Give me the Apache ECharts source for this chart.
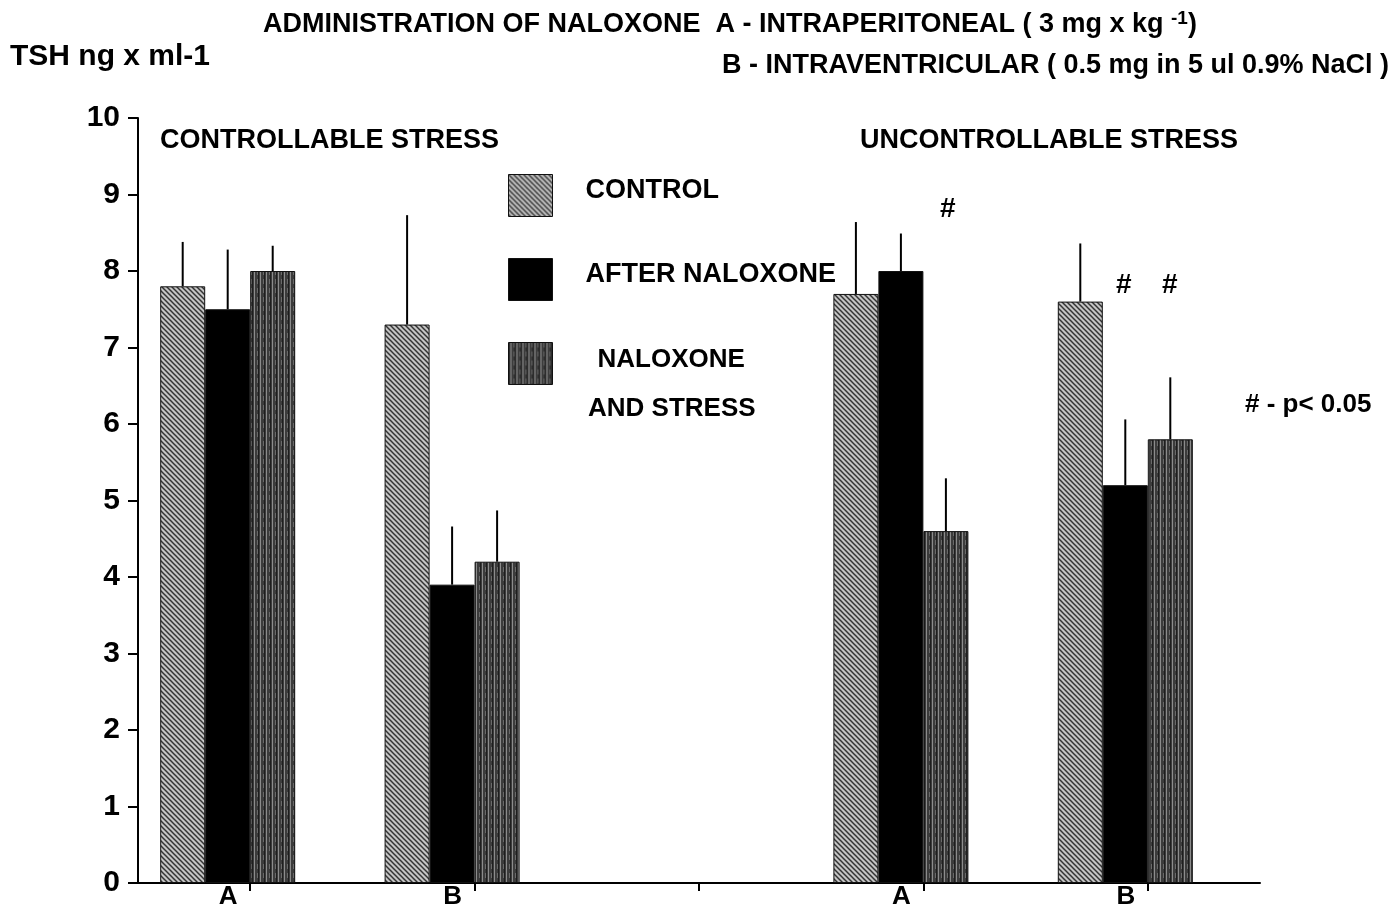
<!DOCTYPE html>
<html>
<head>
<meta charset="utf-8">
<script src="https://cdn.jsdelivr.net/npm/echarts@6/dist/echarts.min.js"></script>
<style>html,body{margin:0;padding:0;background:#fff;}#c{width:1396px;height:910px;}</style>
</head>
<body>
<div id="c"></div>
<script>
// ---- data ----
const categories = ['A', 'B', '', 'A', 'B'];
const seriesNames = ['CONTROL', 'AFTER NALOXONE', 'NALOXONE AND STRESS'];
const controlMean = [7.8, 7.3, '-', 7.7, 7.6];
const controlTop  = [8.38, 8.73, '-', 8.64, 8.36];
const afterMean   = [7.5, 3.9, '-', 8.0, 5.2];
const afterTop    = [8.28, 4.66, '-', 8.49, 6.06];
const nsMean      = [8.0, 4.2, '-', 4.6, 5.8];
const nsTop       = [8.33, 4.87, '-', 5.29, 6.61];
const yTicks = [0, 1, 2, 3, 4, 5, 6, 7, 8, 9, 10];

// ---- patterns ----
function makePattern(kind) {
  const c = document.createElement('canvas');
  if (kind === 'diag') {
    c.width = 5; c.height = 5;
    const g = c.getContext('2d');
    g.fillStyle = '#c4c4c4'; g.fillRect(0, 0, 5, 5);
    g.strokeStyle = '#333333'; g.lineWidth = 1.5;
    g.beginPath(); g.moveTo(-1, -1); g.lineTo(6, 6); g.stroke();
    g.beginPath(); g.moveTo(-1, 4); g.lineTo(1, 6); g.stroke();
    g.beginPath(); g.moveTo(4, -1); g.lineTo(6, 1); g.stroke();
  } else {
    c.width = 6; c.height = 9;
    const g = c.getContext('2d');
    g.fillStyle = '#3c3c3c'; g.fillRect(0, 0, 6, 9);
    g.fillStyle = '#8c8c8c'; g.fillRect(2, 0, 1, 9);
    g.fillStyle = '#6a6a6a'; g.fillRect(5, 0, 1, 5);
    g.fillStyle = '#1e1e1e'; g.fillRect(0, 0, 1, 9);
  }
  return { image: c, repeat: 'repeat' };
}
const colors = [makePattern('diag'), '#000000', makePattern('vert')];

const means = [controlMean, afterMean, nsMean];
const tops = [controlTop, afterTop, nsTop];
const BW = 45;

const chart = echarts.init(document.getElementById('c'));
const series = [];
seriesNames.forEach((n, i) => {
  series.push({
    name: n, type: 'bar', barWidth: BW, barGap: '0%',
    data: means[i],
    itemStyle: { color: colors[i], borderColor: '#111', borderWidth: 1 },
    z: 2
  });
});
// empty slot so the triple sits left of each tick, as in the original
series.push({ name: 'slot', type: 'bar', barWidth: BW, barGap: '0%', data: categories.map(() => '-'), silent: true });

seriesNames.forEach((n, i) => {
  const d = [];
  categories.forEach((c, k) => { if (tops[i][k] !== '-') d.push([k, means[i][k], tops[i][k]]); });
  series.push({
    type: 'custom', name: n + ' err', z: 3, silent: true,
    data: d,
    renderItem: function (params, api) {
      const base = api.coord([api.value(0), api.value(1)]);
      const top = api.coord([api.value(0), api.value(2)]);
      const x = base[0] + (-1.5 + i) * BW;
      return { type: 'line', shape: { x1: x, y1: base[1], x2: x, y2: top[1] }, style: { stroke: '#000', lineWidth: 2 } };
    }
  });
});

const F = 'Liberation Sans, Arial, sans-serif';
chart.setOption({
  backgroundColor: '#fff',
  animation: false,
  grid: { left: 138, right: 136, top: 118, bottom: 26, containLabel: false },
  xAxis: {
    type: 'category', data: categories,
    axisLine: { lineStyle: { color: '#000', width: 2 } },
    axisTick: { show: true, interval: 0, alignWithLabel: true, length: 8, lineStyle: { color: '#000', width: 2 } },
    axisLabel: { interval: 0, color: '#000', fontFamily: F, fontWeight: 'bold', fontSize: 26, margin: 1, padding: [0, 44, 0, 0] }
  },
  yAxis: {
    type: 'value', min: yTicks[0], max: yTicks[yTicks.length - 1], interval: 1,
    splitLine: { show: false },
    axisLine: { show: true, lineStyle: { color: '#000', width: 2 } },
    axisTick: { show: true, length: 10, lineStyle: { color: '#000', width: 2 } },
    axisLabel: { color: '#000', fontFamily: F, fontWeight: 'bold', fontSize: 30, margin: 18 }
  },
  legend: {
    data: seriesNames, orient: 'vertical', left: 503, top: 169,
    itemWidth: 44, itemHeight: 42, itemGap: 41, icon: 'rect', selectedMode: false,
    itemStyle: { borderColor: '#111', borderWidth: 1 },
    formatter: function (name) { return name === 'NALOXONE AND STRESS' ? '{b|NALOXONE}' : '{a|' + name + '}'; },
    textStyle: {
      color: '#000', fontFamily: F, fontWeight: 'bold', fontSize: 27,
      rich: {
        a: { color: '#000', fontFamily: F, fontWeight: 'bold', fontSize: 27, padding: [0, 0, 10, 28] },
        b: { color: '#000', fontFamily: F, fontWeight: 'bold', fontSize: 26, padding: [0, 0, 8, 40] }
      }
    }
  },
  graphic: [
    { type: 'text', left: 10, top: 42, style: { text: 'TSH ng x ml-1', font: 'bold 30px ' + F, fill: '#000' } },
    { type: 'text', left: 263, top: 9, style: {
        text: 'ADMINISTRATION OF NALOXONE  A - INTRAPERITONEAL ( 3 mg x kg {s|-1})',
        font: 'bold 27px ' + F, fill: '#000',
        rich: { s: { font: 'bold 19px ' + F, fill: '#000', verticalAlign: 'top', padding: [0, 0, 12, 0] } }
      } },
    { type: 'text', left: 722, top: 52, style: { text: 'B - INTRAVENTRICULAR ( 0.5 mg in 5 ul 0.9% NaCl )', font: 'bold 27px ' + F, fill: '#000' } },
    { type: 'text', left: 160, top: 127, style: { text: 'CONTROLLABLE STRESS', font: 'bold 27px ' + F, fill: '#000' } },
    { type: 'text', left: 860, top: 127, style: { text: 'UNCONTROLLABLE STRESS', font: 'bold 27px ' + F, fill: '#000' } },
    { type: 'text', left: 588, top: 396, style: { text: 'AND STRESS', font: 'bold 26px ' + F, fill: '#000' } },
    { type: 'text', left: 1245, top: 392, style: { text: '# - p< 0.05', font: 'bold 26px ' + F, fill: '#000' } },
    { type: 'text', left: 940, top: 195, style: { text: '#', font: 'bold 28px ' + F, fill: '#000' } },
    { type: 'text', left: 1116, top: 271, style: { text: '#', font: 'bold 28px ' + F, fill: '#000' } },
    { type: 'text', left: 1162, top: 271, style: { text: '#', font: 'bold 28px ' + F, fill: '#000' } }
  ],
  series: series
});
</script>
</body>
</html>
